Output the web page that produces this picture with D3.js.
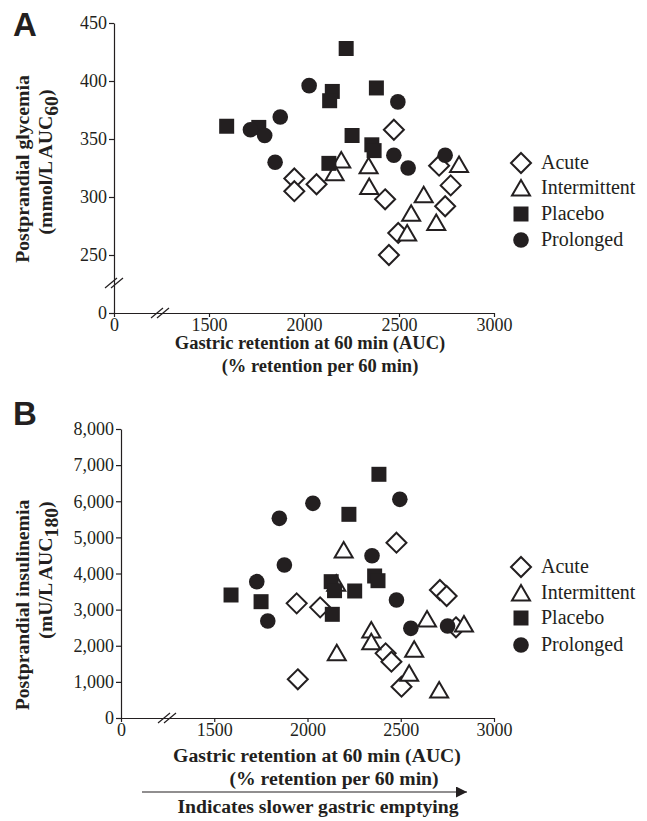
<!DOCTYPE html>
<html><head><meta charset="utf-8">
<script src="https://cdn.jsdelivr.net/npm/d3@7"></script>
<style>
body{margin:0;background:#fff}
svg{display:block}
svg text{font-family:"Liberation Serif","Times New Roman",Tinos,"DejaVu Serif",serif}
svg text.sans{font-family:"Liberation Sans",Arial,Arimo,sans-serif}
</style>
</head><body>
<script>
// ---- data ----
const seriesNames = ["Acute", "Intermittent", "Placebo", "Prolonged"];
const xTicks = [1000, 1500, 2000, 2500, 3000];
const xTickLabels = ["0", "1500", "2000", "2500", "3000"];
const yTicksA = [200, 250, 300, 350, 400, 450];
const yTickLabelsA = ["0", "250", "300", "350", "400", "450"];
const yTicksB = [0, 1000, 2000, 3000, 4000, 5000, 6000, 7000, 8000];

// Panel A: glycemia
const acuteA_x = [2473,1949,1949,2066,2427,2711,2772,2743,2496,2447];
const acuteA_y = [358,316,305,311,298,327,310,292,269,250];
const interA_x = [2196,2161,2340,2343,2630,2564,2543,2696,2816];
const interA_y = [332,321,327,309,302,286,269,278,328];
const placeboA_x = [2222,2149,2135,2381,1593,1762,2253,2357,2369,2131];
const placeboA_y = [428,391,383,394,361,360,353,345,340,329];
const prolA_x = [2027,2494,1875,1718,1793,1848,2473,2548,2743];
const prolA_y = [396,382,369,358,353,330,336,325,336];

// Panel B: insulinemia
const acuteB_x = [2477,1942,2068,2710,2746,2796,2419,2450,2504,1948];
const acuteB_y = [4853,3174,3063,3543,3377,2510,1790,1559,867,1071];
const interB_x = [2194,2154,2342,2342,2157,2641,2572,2545,2706,2839];
const interB_y = [4650,3728,2436,2112,1808,2740,1901,1237,775,2602];
const placeboB_x = [2383,2222,1590,1751,2127,2145,2253,2133,2360,2378];
const placeboB_y = [6746,5638,3405,3220,3774,3524,3516,2870,3931,3801];
const prolB_x = [2495,2029,1849,2346,1876,1728,1787,2477,2554,2751];
const prolB_y = [6053,5942,5527,4493,4235,3774,2685,3266,2482,2547];

// ---- drawing ----
const INK = "#231f20";

const svg = d3.select("body").append("svg").attr("width", 647).attr("height", 821);

function shapePath(kind) {
  if (kind === "Acute") return "M0,-10L10,0L0,10L-10,0Z";
  if (kind === "Intermittent") return "M0,-8L9,7.5L-9,7.5Z";
  if (kind === "Placebo") return "M-7.5,-7.5H7.5V7.5H-7.5Z";
  return null;
}
function drawMarker(g, kind, x, y) {
  if (kind === "Prolonged") {
    g.append("circle").attr("cx", x).attr("cy", y).attr("r", 7.8).attr("fill", INK);
  } else {
    const filled = kind === "Placebo";
    g.append("path").attr("d", shapePath(kind)).attr("transform", `translate(${x},${y})`)
      .attr("fill", filled ? INK : "#fff").attr("stroke", filled ? "none" : INK)
      .attr("stroke-width", 2).attr("stroke-linejoin", "miter");
  }
}

function panel(opts) {
  const g = svg.append("g");
  const x = d3.scaleLinear().domain([1000, 3000]).range([opts.x0, 494]);
  const y = d3.scaleLinear().domain(opts.yDomain).range([opts.yBottom, opts.yTop]);

  const xa = g.append("g").attr("transform", `translate(0,${opts.yBottom})`)
    .call(d3.axisBottom(x).tickValues(xTicks).tickFormat((d, i) => xTickLabels[i]).tickSize(4).tickSizeOuter(0).tickPadding(1));
  const ya = g.append("g").attr("transform", `translate(${opts.x0},0)`)
    .call(d3.axisLeft(y).tickValues(opts.yTicks).tickFormat(opts.yFormat).tickSize(5).tickSizeOuter(0).tickPadding(2));
  [xa, ya].forEach(a => {
    a.attr("font-family", null);
    a.selectAll("path,line").attr("stroke", INK).attr("stroke-width", 1.2);
    a.selectAll("text").attr("font-size", 18).attr("fill", INK);
  });

  // break marks
  const slash = (cx, cy) => {
    [-3, 3].forEach(o => g.append("line")
      .attr("x1", cx + o - 6).attr("y1", cy + 5).attr("x2", cx + o + 6).attr("y2", cy - 5)
      .attr("stroke", INK).attr("stroke-width", 1.2));
  };
  slash(opts.xBreak, opts.yBottom);
  if (opts.yBreak) slash(opts.x0, opts.yBreak);

  // points
  const pts = g.append("g");
  opts.series.forEach(s => {
    s.xs.forEach((v, i) => drawMarker(pts, s.name, x(v), y(s.ys[i])));
  });

  // legend
  seriesNames.forEach((n, i) => {
    const cy = opts.legY[i];
    drawMarker(g, n, 521, cy);
    g.append("text").attr("x", 541).attr("y", cy + 6)
      .attr("font-size", 20).attr("fill", INK).text(n);
  });

  // panel letter
  g.append("text").attr("class", "sans").attr("x", 13).attr("y", opts.letterY)
    .attr("font-weight", "bold").attr("font-size", 33).attr("fill", INK).text(opts.letter);

  // y title
  g.append("text").attr("transform", `translate(29,${opts.yt1})rotate(-90)`)
    .attr("text-anchor", "middle").attr("font-weight", "bold")
    .attr("font-size", 19.7).attr("fill", INK).text(opts.yTitle1);
  const yt2 = g.append("text").attr("transform", `translate(52,${opts.yt2})rotate(-90)`)
    .attr("text-anchor", "middle").attr("font-weight", "bold")
    .attr("font-size", 19.7).attr("fill", INK);
  yt2.append("tspan").text(opts.yTitle2a);
  yt2.append("tspan").attr("dy", 6).text(opts.yTitle2sub);
  yt2.append("tspan").attr("dy", -6).text(")");

  // x title
  g.append("text").attr("x", opts.xt1x).attr("y", opts.xt1y).attr("text-anchor", "middle")
    .attr("font-weight", "bold").attr("font-size", opts.xtSize).attr("fill", INK)
    .text("Gastric retention at 60 min (AUC)");
  g.append("text").attr("x", opts.xt2x).attr("y", opts.xt1y + 23).attr("text-anchor", "middle")
    .attr("font-weight", "bold").attr("font-size", opts.xtSize).attr("fill", INK)
    .text("(% retention per 60 min)");
  return g;
}

panel({
  letter: "A", letterY: 36, x0: 114, yTop: 23, yBottom: 313, yDomain: [200, 450],
  yTicks: yTicksA, yFormat: (d, i) => yTickLabelsA[i], xBreak: 160, yBreak: 283,
  series: [
    {name: "Acute", xs: acuteA_x, ys: acuteA_y},
    {name: "Intermittent", xs: interA_x, ys: interA_y},
    {name: "Placebo", xs: placeboA_x, ys: placeboA_y},
    {name: "Prolonged", xs: prolA_x, ys: prolA_y}
  ],
  legY: [163, 188, 214, 240],
  yt1: 169, yTitle1: "Postprandial glycemia", yt2: 162, yTitle2a: "(mmol/L AUC", yTitle2sub: "60",
  xt1x: 310, xt1y: 349, xt2x: 320, xtSize: 18.5
});

panel({
  letter: "B", letterY: 425, x0: 121, yTop: 429, yBottom: 718, yDomain: [0, 8000],
  yTicks: yTicksB, yFormat: d3.format(","), xBreak: 167, yBreak: null,
  series: [
    {name: "Acute", xs: acuteB_x, ys: acuteB_y},
    {name: "Intermittent", xs: interB_x, ys: interB_y},
    {name: "Placebo", xs: placeboB_x, ys: placeboB_y},
    {name: "Prolonged", xs: prolB_x, ys: prolB_y}
  ],
  legY: [567, 593, 618, 645],
  yt1: 605, yTitle1: "Postprandial insulinemia", yt2: 570, yTitle2a: "(mU/L AUC", yTitle2sub: "180",
  xt1x: 317, xt1y: 762, xt2x: 334, xtSize: 19.7
});

// arrow + caption
svg.append("defs").append("marker").attr("id", "ah").attr("viewBox", "0 0 10 10")
  .attr("refX", 10).attr("refY", 5).attr("markerWidth", 13).attr("markerHeight", 11)
  .attr("markerUnits", "userSpaceOnUse").attr("orient", "auto")
  .append("path").attr("d", "M0,0L10,5L0,10Z").attr("fill", INK);
svg.append("line").attr("x1", 142).attr("y1", 792).attr("x2", 467).attr("y2", 792)
  .attr("stroke", INK).attr("stroke-width", 1.2).attr("marker-end", "url(#ah)");
svg.append("text").attr("x", 318).attr("y", 813).attr("text-anchor", "middle")
  .attr("font-weight", "bold").attr("font-size", 19.7).attr("fill", INK)
  .text("Indicates slower gastric emptying");
</script>
</body></html>
